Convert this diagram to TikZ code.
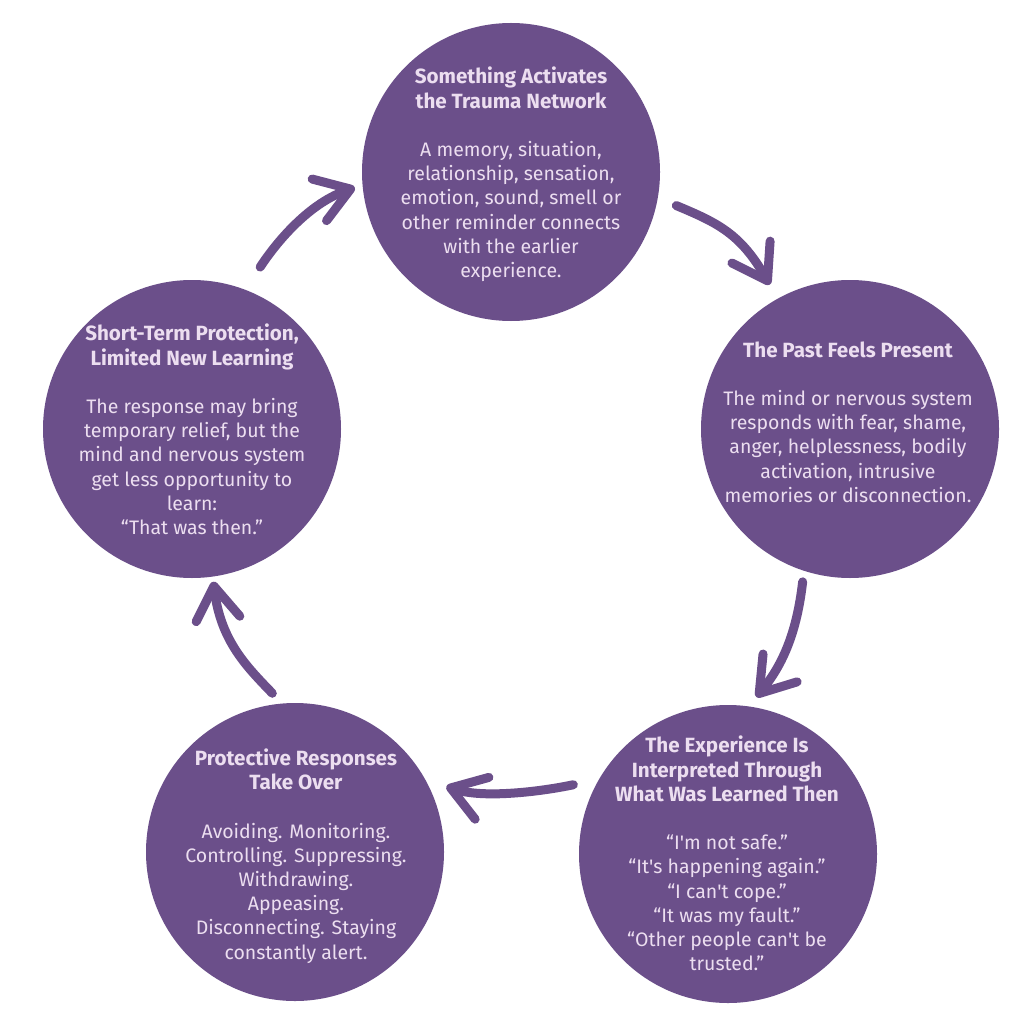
\documentclass[tikz,border=0pt]{standalone}
\usepackage{fontspec}
\setmainfont{Fira Sans}
\usetikzlibrary{arrows.meta}
\definecolor{cfill}{RGB}{107,79,138}
\definecolor{ctext}{RGB}{236,222,240}
\newcommand{\ttl}[1]{{\fontsize{20.6pt}{24.2pt}\selectfont\bfseries #1}}
\begin{document}
\begin{tikzpicture}[x=1pt,y=-1pt,
  bubble/.style={circle, fill=cfill, minimum size=298pt, inner sep=0pt},
  words/.style={text=ctext, align=center, font=\fontsize{19.5pt}{24.2pt}\selectfont},
  arr/.style={draw=cfill, line width=9pt, line cap=round, -{Straight Barb[length=33pt,width=44pt,round]}}
]
\useasboundingbox (0,0) rectangle (1024,1024);
\fill[white] (0,0) rectangle (1024,1024);

\node[bubble] (c1) at (511,172) {};
\node[bubble] (c2) at (850,429) {};
\node[bubble] (c3) at (728,854) {};
\node[bubble] (c4) at (295,852) {};
\node[bubble] (c5) at (192,429) {};

\node[words] (t1) at (511,174.5) {\ttl{Something Activates}\\\ttl{the Trauma Network}\\[24.2pt]
A memory, situation,\\relationship, sensation,\\emotion, sound, smell or\\other reminder connects\\with the earlier\\experience.};
\node[words] (t2) at (848,422) {\ttl{The Past Feels Present}\\[24.2pt]
The mind or nervous system\\responds with fear, shame,\\anger, helplessness, bodily\\activation, intrusive\\memories or disconnection.};
\node[words] (t3) at (727,853.5) {\ttl{The Experience Is}\\\ttl{Interpreted Through}\\\ttl{What Was Learned Then}\\[24.2pt]
“I\textquotesingle m not safe.”\\“It\textquotesingle s happening again.”\\“I can\textquotesingle t cope.”\\“It was my fault.”\\“Other people can\textquotesingle t be\\trusted.”};
\node[words] (t4) at (296,856) {\ttl{Protective Responses}\\\ttl{Take Over}\\[24.2pt]
Avoiding. Monitoring.\\Controlling. Suppressing.\\Withdrawing.\\Appeasing.\\Disconnecting. Staying\\constantly alert.};
\node[words] (t5) at (192,429.5) {\ttl{Short-Term Protection,}\\\ttl{Limited New Learning}\\[24.2pt]
The response may bring\\temporary relief, but the\\mind and nervous system\\get less opportunity to\\learn:\\“That was then.”};

\draw[arr, shorten <=20pt, shorten >=16pt] (c1.-10) .. controls (718,223) and (740.5,233.8) .. (c2.119);
\draw[arr, shorten <=11pt, shorten >=12pt] (c2.-108) .. controls (797,630.7) and (783.7,663.5) .. (c3.82);
\draw[arr, shorten <=26pt, shorten >=22pt] (c3.150) .. controls (539.7,791.8) and (483,798.6) .. (c4.29);
\draw[arr, shorten <=14pt, shorten >=5pt] (c4.95) .. controls (247.2,667.1) and (220.8,641.4) .. (c5.-82);
\draw[arr, shorten <=27pt, shorten >=8pt] (c5.69) .. controls (272.6,247.9) and (305.6,204.6) .. (c1.185);
\end{tikzpicture}
\end{document}
